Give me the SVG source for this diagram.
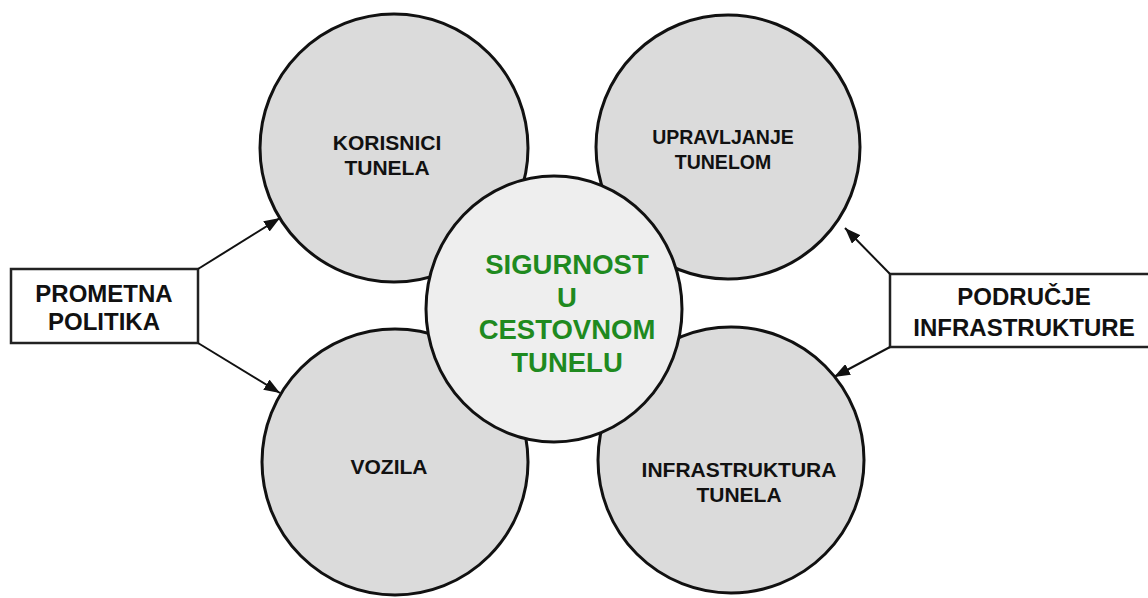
<svg xmlns="http://www.w3.org/2000/svg" width="1148" height="598" viewBox="0 0 1148 598">
  <style>
    .outer { fill: #dbdbdb; stroke: #111; stroke-width: 3; }
    .inner { fill: #eeeeee; stroke: #111; stroke-width: 3; }
    .box { fill: #ffffff; stroke: #222; stroke-width: 2.5; }
    .lbl { font-family: "Liberation Sans", Arial, sans-serif; font-weight: bold; font-size: 21px; fill: #111; text-anchor: middle; }
    .sm { font-size: 19.5px; }
    .boxlbl { font-family: "Liberation Sans", Arial, sans-serif; font-weight: bold; font-size: 24px; fill: #111; text-anchor: middle; }
    .center { font-family: "Liberation Sans", Arial, sans-serif; font-weight: bold; font-size: 27.5px; fill: #1f8a1f; text-anchor: middle; }
    .conn { stroke: #111; stroke-width: 2; fill: none; marker-end: url(#arrow); }
  </style>
  <defs>
    <marker id="arrow" viewBox="0 0 16 12" refX="16" refY="6" markerWidth="16" markerHeight="12" orient="auto" markerUnits="userSpaceOnUse">
      <path d="M0,0 L16,6 L0,12 z" fill="#111"/>
    </marker>
  </defs>
  <rect x="0" y="0" width="1148" height="598" fill="#ffffff"/>

  <g id="node-korisnici">
    <circle class="outer" cx="394" cy="148" r="134"/>
    <text class="lbl" x="387" y="150">KORISNICI</text>
    <text class="lbl" x="387" y="175">TUNELA</text>
  </g>
  <g id="node-upravljanje">
    <circle class="outer" cx="728" cy="147" r="132"/>
    <text class="lbl sm" x="723" y="144">UPRAVLJANJE</text>
    <text class="lbl sm" x="723" y="169">TUNELOM</text>
  </g>
  <g id="node-vozila">
    <circle class="outer" cx="395" cy="462" r="133"/>
    <text class="lbl" x="389" y="474">VOZILA</text>
  </g>
  <g id="node-infrastruktura">
    <circle class="outer" cx="731" cy="460" r="133"/>
    <text class="lbl" x="739" y="477">INFRASTRUKTURA</text>
    <text class="lbl" x="739" y="502">TUNELA</text>
  </g>
  <g id="node-sigurnost">
    <ellipse class="inner" cx="554" cy="309" rx="128" ry="133"/>
    <text class="center" x="567" y="274">SIGURNOST</text>
    <text class="center" x="567" y="307">U</text>
    <text class="center" x="567" y="339">CESTOVNOM</text>
    <text class="center" x="567" y="372">TUNELU</text>
  </g>
  <g id="node-prometna">
    <rect class="box" x="11" y="269" width="187" height="74"/>
    <text class="boxlbl" x="104" y="302">PROMETNA</text>
    <text class="boxlbl" x="104" y="330">POLITIKA</text>
  </g>
  <g id="node-podrucje">
    <rect class="box" x="890" y="274" width="270" height="73"/>
    <text class="boxlbl" x="1024" y="305">PODRUČJE</text>
    <text class="boxlbl" x="1024" y="336">INFRASTRUKTURE</text>
  </g>

  <g id="connectors">
    <line class="conn" x1="198" y1="269" x2="280" y2="218"/>
    <line class="conn" x1="198" y1="343" x2="280" y2="393"/>
    <line class="conn" x1="890" y1="274" x2="845" y2="228"/>
    <line class="conn" x1="890" y1="347" x2="834" y2="377"/>
  </g>
</svg>
